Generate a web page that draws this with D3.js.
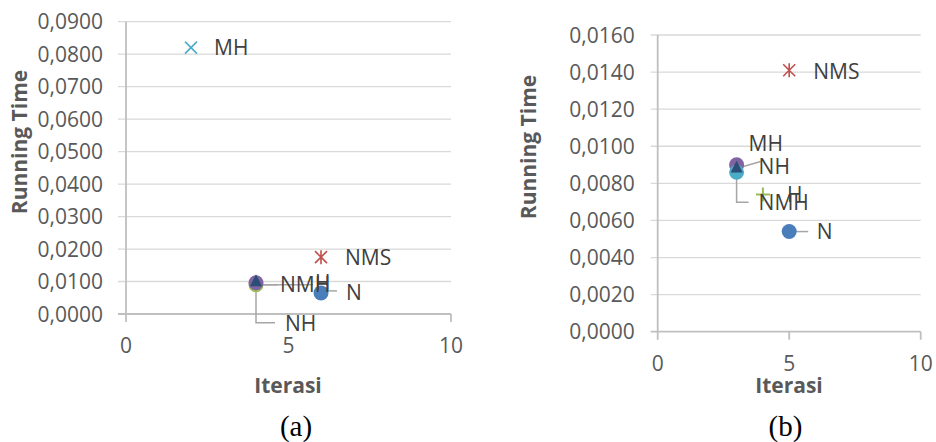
<!doctype html>
<html>
<head>
<meta charset="utf-8" />
<title>Running Time vs Iterasi</title>
<script src="https://cdn.jsdelivr.net/npm/d3@7"></script>
<style>
  html, body { margin: 0; padding: 0; background: #fff; overflow: hidden; }
  svg { display: block; }
</style>
</head>
<body>
<script>
// series names, same order in both charts
const seriesNames = ["N", "NMS", "MH", "H", "NMH", "NH"];
// chart (a)
const iterasiA = [6, 6, 2, 4, 4, 4];
const timeA = [0.0065, 0.0175, 0.0820, 0.0090, 0.0096, 0.0098];
const yTicksA = [0, 0.01, 0.02, 0.03, 0.04, 0.05, 0.06, 0.07, 0.08, 0.09];
// chart (b)
const iterasiB = [5, 5, 3, 4, 3, 3];
const timeB = [0.0054, 0.0141, 0.0090, 0.0074, 0.0086, 0.0088];
const yTicksB = [0, 0.002, 0.004, 0.006, 0.008, 0.010, 0.012, 0.014, 0.016];
const xTicks = [0, 5, 10];
const xTitle = "Iterasi";
const yTitle = "Running Time";

const svg = d3.select("body").append("svg")
  .attr("width", 936).attr("height", 442);

const loc = d3.formatLocale({decimal: ",", thousands: ".", grouping: [3], currency: ["", ""]});
const fmt = loc.format(".4f");

const FONT = "'Open Sans', sans-serif";
const TXT = "#595959";
const colors = {blue: "#4a7ebb", red: "#c0504d", green: "#9bbb59", purple: "#8064a2", cyan: "#4bacc6", navy: "#2c4d75"};

function marker(g, shape, color) {
  if (shape === "circle") {
    g.append("circle").attr("r", 7.5).attr("fill", color);
  } else if (shape === "triangle") {
    g.append("path").attr("d", "M0,-8L6,4L-6,4Z").attr("fill", color);
  } else if (shape === "x") {
    g.append("path").attr("d", "M-6,-6L6,6M-6,6L6,-6").attr("stroke", color).attr("stroke-width", 1.6);
  } else if (shape === "star") {
    g.append("path").attr("d", "M-6,-6L6,6M-6,6L6,-6M0,-7L0,7").attr("stroke", color).attr("stroke-width", 1.6);
  } else if (shape === "plus") {
    g.append("path").attr("d", "M-7,0L7,0M0,-7L0,7").attr("stroke", color).attr("stroke-width", 2);
  }
}

function drawChart(cfg) {
  const x = d3.scaleLinear().domain([0, 10]).range(cfg.xr);
  const y = d3.scaleLinear().domain([0, cfg.yTicks[cfg.yTicks.length - 1]]).range(cfg.yr);
  const g = svg.append("g");

  // gridlines + y ticks
  g.selectAll("line.grid").data(cfg.yTicks).join("line")
    .attr("x1", cfg.xr[0] - cfg.tick).attr("x2", cfg.xr[1])
    .attr("y1", d => y(d)).attr("y2", d => y(d))
    .attr("stroke", d => d === 0 ? "#bfbfbf" : "#d9d9d9")
    .attr("stroke-width", d => d === 0 ? 1.8 : 1.3);
  // y axis line
  g.append("line")
    .attr("x1", x(0)).attr("x2", x(0))
    .attr("y1", y.range()[1]).attr("y2", y(0) + 8)
    .attr("stroke", "#bfbfbf").attr("stroke-width", 1.8);
  // x ticks
  g.selectAll("line.xt").data(xTicks.slice(1)).join("line")
    .attr("x1", d => x(d)).attr("x2", d => x(d))
    .attr("y1", y(0)).attr("y2", y(0) + 8)
    .attr("stroke", "#bfbfbf").attr("stroke-width", 1.8);

  g.selectAll("text.yl").data(cfg.yTicks).join("text")
    .attr("x", x(0) - 23).attr("y", d => y(d)).attr("dy", "0.36em")
    .attr("text-anchor", "end")
    .style("font", `21px ${FONT}`).attr("fill", TXT)
    .text(d => fmt(d));
  g.selectAll("text.xl").data(xTicks).join("text")
    .attr("x", d => x(d)).attr("y", y(0) + 39)
    .attr("text-anchor", "middle")
    .style("font", `21px ${FONT}`).attr("fill", TXT)
    .text(d => d);

  // titles
  g.append("text")
    .attr("x", cfg.xTitle[0]).attr("y", cfg.xTitle[1])
    .attr("text-anchor", "middle")
    .style("font", `bold 21px ${FONT}`).attr("fill", TXT)
    .text(xTitle);
  g.append("text")
    .attr("transform", `translate(${cfg.yTitle[0]},${cfg.yTitle[1]}) rotate(-90)`)
    .attr("text-anchor", "middle")
    .style("font", `bold 21px ${FONT}`).attr("fill", TXT)
    .text(yTitle);
  g.append("text")
    .attr("x", cfg.caption[0]).attr("y", cfg.caption[1])
    .attr("text-anchor", "middle")
    .style("font", "29px 'Liberation Serif', serif").attr("fill", "#000")
    .text(cfg.captionText);

  const pts = seriesNames.map((name, i) => ({
    name, px: x(cfg.xs[i]), py: y(cfg.ys[i]), st: cfg.style[name]
  }));

  // leader lines
  pts.filter(p => p.st.leader).forEach(p => {
    g.append("path")
      .attr("d", d3.line()(p.st.leader.map(([dx, dy]) => [p.px + dx, p.py + dy])))
      .attr("fill", "none").attr("stroke", "#a6a6a6").attr("stroke-width", 1.5);
  });

  // markers
  cfg.order.forEach(name => {
    const p = pts.find(q => q.name === name);
    const m = g.append("g").attr("transform", `translate(${p.px},${p.py})`);
    marker(m, p.st.shape, p.st.color);
  });

  // labels
  pts.forEach(p => {
    g.append("text")
      .attr("x", p.px + p.st.dx).attr("y", p.py + p.st.dy).attr("dy", "0.36em")
      .style("font", `21px ${FONT}`).attr("fill", "#404040")
      .text(p.name);
  });
}

drawChart({
  xs: iterasiA, ys: timeA, yTicks: yTicksA,
  xr: [126, 451], yr: [314, 21.7], tick: 8,
  xTitle: [288, 393], yTitle: [27, 142], caption: [296, 436], captionText: "(a)",
  order: ["MH", "NMS", "N", "H", "NMH", "NH"],
  style: {
    N: {shape: "circle", color: colors.blue, dx: 25, dy: 0, leader: [[0, -2], [16, -2]]},
    NMS: {shape: "star", color: colors.red, dx: 24, dy: 0},
    MH: {shape: "x", color: colors.cyan, dx: 23, dy: 0},
    H: {shape: "circle", color: colors.green, dx: 59, dy: -2, leader: [[0, 0], [57, 0]]},
    NMH: {shape: "circle", color: colors.purple, dx: 24, dy: 1.5, leader: [[0, 2], [22, 2]]},
    NH: {shape: "triangle", color: colors.navy, dx: 29, dy: 41, leader: [[0, 3], [0, 40.5], [19, 40.5]]}
  }
});

drawChart({
  xs: iterasiB, ys: timeB, yTicks: yTicksB,
  xr: [657.7, 920.7], yr: [331.7, 35], tick: 7,
  xTitle: [789, 393], yTitle: [536, 147], caption: [785.5, 436], captionText: "(b)",
  order: ["NMS", "N", "H", "MH", "NMH", "NH"],
  style: {
    N: {shape: "circle", color: colors.blue, dx: 27.5, dy: 0, leader: [[0, 0], [19, 0]]},
    NMS: {shape: "star", color: colors.red, dx: 24, dy: 1.5},
    MH: {shape: "circle", color: colors.purple, dx: 12, dy: -21.5},
    H: {shape: "plus", color: colors.green, dx: 24, dy: 0},
    NMH: {shape: "circle", color: colors.cyan, dx: 22, dy: 30.5, leader: [[0, -5], [0, 30], [12, 30]]},
    NH: {shape: "triangle", color: colors.navy, dx: 22, dy: -2.5, leader: [[0, 0], [24, -7]]}
  }
});
</script>
</body>
</html>
